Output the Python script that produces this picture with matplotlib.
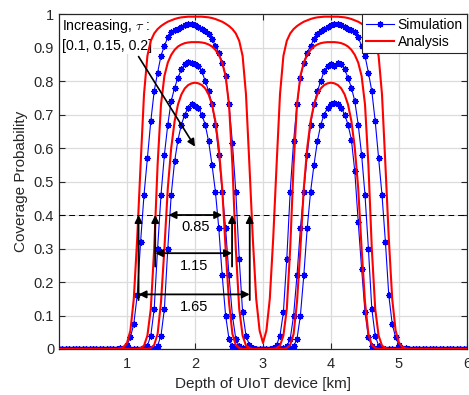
import numpy as np
import matplotlib
matplotlib.use('Agg')
import matplotlib.pyplot as plt
from matplotlib.patches import FancyArrowPatch

plt.rcParams['font.family'] = ['Liberation Sans', 'DejaVu Sans']
plt.rcParams['mathtext.fontset'] = 'cm'

# depth grid [km], 0.05 km steps from 0 to 6
depth = np.round(np.arange(121) * 0.05, 2)

# simulation (tau = 0.1, 0.15, 0.2)
sim_1 = [0.0] * 18 + [
    0.002, 0.004, 0.012, 0.035, 0.075, 0.16, 0.32, 0.46, 0.57, 0.68,
    0.77, 0.825, 0.875, 0.905, 0.93, 0.945, 0.952, 0.955, 0.962, 0.968,
    0.970, 0.971, 0.966, 0.962, 0.955, 0.948, 0.94, 0.925, 0.905, 0.885,
    0.855, 0.815, 0.73, 0.615, 0.47, 0.27, 0.11, 0.04, 0.012, 0.004,
    0.001, 0.0, 0.0, 0.0, 0.001, 0.004, 0.012, 0.04, 0.11, 0.27,
    0.47, 0.62, 0.73, 0.81, 0.855, 0.885, 0.905, 0.925, 0.94, 0.948,
    0.955, 0.962, 0.967, 0.971, 0.970, 0.968, 0.962, 0.956, 0.952, 0.945,
    0.93, 0.905, 0.875, 0.825, 0.77, 0.68, 0.57, 0.46, 0.32, 0.16,
    0.075, 0.035, 0.012, 0.004, 0.002] + [0.0] * 18
sim_2 = [0.0] * 26 + [
    0.01, 0.04, 0.12, 0.30, 0.46, 0.58, 0.67, 0.74, 0.78, 0.81,
    0.835, 0.85, 0.856, 0.855, 0.85, 0.845, 0.83, 0.80, 0.77, 0.73,
    0.67, 0.58, 0.47, 0.36, 0.22, 0.10, 0.03, 0.008, 0.002] + [0.0] * 11 + [
    0.002, 0.008, 0.03, 0.10, 0.22, 0.36, 0.47, 0.58, 0.67, 0.73,
    0.77, 0.80, 0.83, 0.845, 0.85, 0.845, 0.855, 0.85, 0.835, 0.81,
    0.78, 0.74, 0.67, 0.58, 0.46, 0.30, 0.12, 0.04, 0.01] + [0.0] * 26
sim_3 = [0.0] * 29 + [
    0.01, 0.04, 0.12, 0.30, 0.46, 0.56, 0.625, 0.67, 0.70, 0.72,
    0.73, 0.726, 0.72, 0.70, 0.67, 0.62, 0.55, 0.47, 0.36, 0.22,
    0.10, 0.03, 0.008, 0.002] + [0.0] * 15 + [
    0.002, 0.008, 0.03, 0.10, 0.22, 0.36, 0.47, 0.55, 0.62, 0.67,
    0.70, 0.72, 0.73, 0.735, 0.73, 0.72, 0.70, 0.67, 0.625, 0.53,
    0.38, 0.24, 0.11, 0.035, 0.008] + [0.0] * 28

# analysis
ana_1 = [0.0] * 18 + [
    0.002, 0.006, 0.018, 0.055, 0.15, 0.33, 0.55, 0.76, 0.875, 0.92,
    0.942, 0.955, 0.964, 0.971, 0.977, 0.981, 0.985, 0.988, 0.99, 0.991,
    0.992, 0.992, 0.992, 0.992, 0.992, 0.991, 0.99, 0.988, 0.985, 0.981,
    0.977, 0.971, 0.964, 0.955, 0.942, 0.92, 0.875, 0.76, 0.55, 0.33,
    0.15, 0.055, 0.018, 0.055, 0.15, 0.33, 0.55, 0.76, 0.875, 0.92,
    0.942, 0.955, 0.964, 0.971, 0.977, 0.981, 0.985, 0.988, 0.99, 0.991,
    0.992, 0.992, 0.992, 0.992, 0.992, 0.991, 0.99, 0.988, 0.985, 0.981,
    0.977, 0.971, 0.964, 0.955, 0.942, 0.92, 0.875, 0.76, 0.55, 0.33,
    0.15, 0.055, 0.018, 0.006, 0.002] + [0.0] * 18
ana_2 = [0.0] * 24 + [
    0.003, 0.01, 0.04, 0.12, 0.30, 0.55, 0.73, 0.815, 0.855, 0.878,
    0.893, 0.903, 0.909, 0.913, 0.915, 0.916, 0.916, 0.916, 0.915, 0.913,
    0.909, 0.903, 0.893, 0.878, 0.855, 0.815, 0.73, 0.55, 0.30, 0.12,
    0.04, 0.01, 0.003] + [0.0] * 7 + [
    0.003, 0.01, 0.04, 0.12, 0.30, 0.55, 0.73, 0.815, 0.855, 0.878,
    0.893, 0.903, 0.909, 0.913, 0.915, 0.916, 0.916, 0.916, 0.915, 0.913,
    0.909, 0.903, 0.893, 0.878, 0.855, 0.815, 0.73, 0.55, 0.30, 0.12,
    0.04, 0.01, 0.003] + [0.0] * 24
ana_3 = [0.0] * 27 + [
    0.003, 0.012, 0.045, 0.14, 0.30, 0.48, 0.60, 0.68, 0.73, 0.76,
    0.778, 0.788, 0.793, 0.795, 0.793, 0.788, 0.778, 0.76, 0.73, 0.68,
    0.60, 0.48, 0.30, 0.14, 0.045, 0.012, 0.003] + [0.0] * 13 + [
    0.003, 0.012, 0.045, 0.14, 0.30, 0.48, 0.60, 0.68, 0.73, 0.76,
    0.778, 0.788, 0.793, 0.795, 0.793, 0.788, 0.778, 0.76, 0.73, 0.68,
    0.60, 0.48, 0.30, 0.14, 0.045, 0.012, 0.003] + [0.0] * 27

# coverage widths at P = 0.4 (horizontal arrows)
width_labels = ['0.85', '1.15', '1.65']
width_start = [1.61, 1.415, 1.17]
width_end = [2.40, 2.545, 2.805]
width_y = [0.40, 0.286, 0.163]
threshold = 0.4

fig = plt.figure(figsize=(4.69, 3.95), dpi=100)
ax = fig.add_axes([59 / 469, 46 / 395, 408 / 469, 335 / 395])

blue = (0, 0, 1)
red = (1, 0, 0)
for i, s in enumerate([sim_1, sim_2, sim_3]):
    ax.plot(depth, s, '-', color=blue, lw=0.8, marker=(8, 2, 0), ms=4.5,
            mew=0.9, label='Simulation' if i == 0 else None, zorder=3)
for i, a in enumerate([ana_1, ana_2, ana_3]):
    ax.plot(depth, a, '-', color=red, lw=1.5,
            label='Analysis' if i == 0 else None, zorder=4)

# threshold line
ax.axhline(threshold, color='k', ls=(0, (6, 4)), lw=0.7, zorder=5)

# vertical markers at the threshold crossings
for x0, y0 in [(1.17, 0.146), (2.805, 0.146), (1.415, 0.246), (2.545, 0.246)]:
    ax.add_patch(FancyArrowPatch((x0, y0), (x0, threshold), arrowstyle='-|>',
                                 mutation_scale=11, lw=1.3, color='k',
                                 shrinkA=0, shrinkB=0, zorder=6))

for lab, x0, x1, y in zip(width_labels, width_start, width_end, width_y):
    ax.add_patch(FancyArrowPatch((x0, y), (x1, y), arrowstyle='<|-|>',
                                 mutation_scale=11, lw=1.3, color='k',
                                 shrinkA=0, shrinkB=0, zorder=6))
    ax.text((x0 + x1) / 2, y - 0.037, lab, ha='center', va='center',
            fontsize=10.5, zorder=7)

# tau annotation (white box hides the grid, curves stay on top)
ax.text(0.007, 0.99, 'Increasing, $\\tau$ :\n[0.1, 0.15, 0.2]', transform=ax.transAxes,
        ha='left', va='top', fontsize=10.2, linespacing=1.3, zorder=2.5,
        bbox=dict(facecolor='white', edgecolor='none', pad=1))
ax.add_patch(FancyArrowPatch((1.17, 0.873), (2.0, 0.604), arrowstyle='-|>',
                             mutation_scale=11, lw=1.2, color='k',
                             shrinkA=0, shrinkB=0, zorder=8))

ax.set_xlim(0, 6)
ax.set_ylim(0, 1)
ax.set_xticks([1, 2, 3, 4, 5, 6])
ax.set_yticks(np.arange(0, 1.01, 0.1))
ax.set_yticklabels(['0', '0.1', '0.2', '0.3', '0.4', '0.5', '0.6', '0.7', '0.8', '0.9', '1'])
ax.grid(True, color='#dcdcdc', lw=0.9)
ax.set_axisbelow(True)
ax.tick_params(direction='in', top=True, right=True, length=4, width=0.8,
               colors='#262626', labelsize=10.5)
ax.tick_params(axis='x', pad=6)
for sp in ax.spines.values():
    sp.set_color('#262626')
    sp.set_linewidth(0.9)

ax.set_xlabel('Depth of UIoT device [km]', fontsize=11, color='#262626', labelpad=4)
ax.set_ylabel('Coverage Probability', fontsize=11, color='#262626', labelpad=4)

leg = ax.legend(loc='upper right', fontsize=10, fancybox=False, framealpha=1,
                borderaxespad=0, handlelength=2.0, numpoints=1,
                borderpad=0.3, labelspacing=0.2, handletextpad=0.3)
leg.get_frame().set_edgecolor('#262626')
leg.get_frame().set_linewidth(0.8)
leg.set_zorder(10)

fig.savefig('out.png', dpi=100)
